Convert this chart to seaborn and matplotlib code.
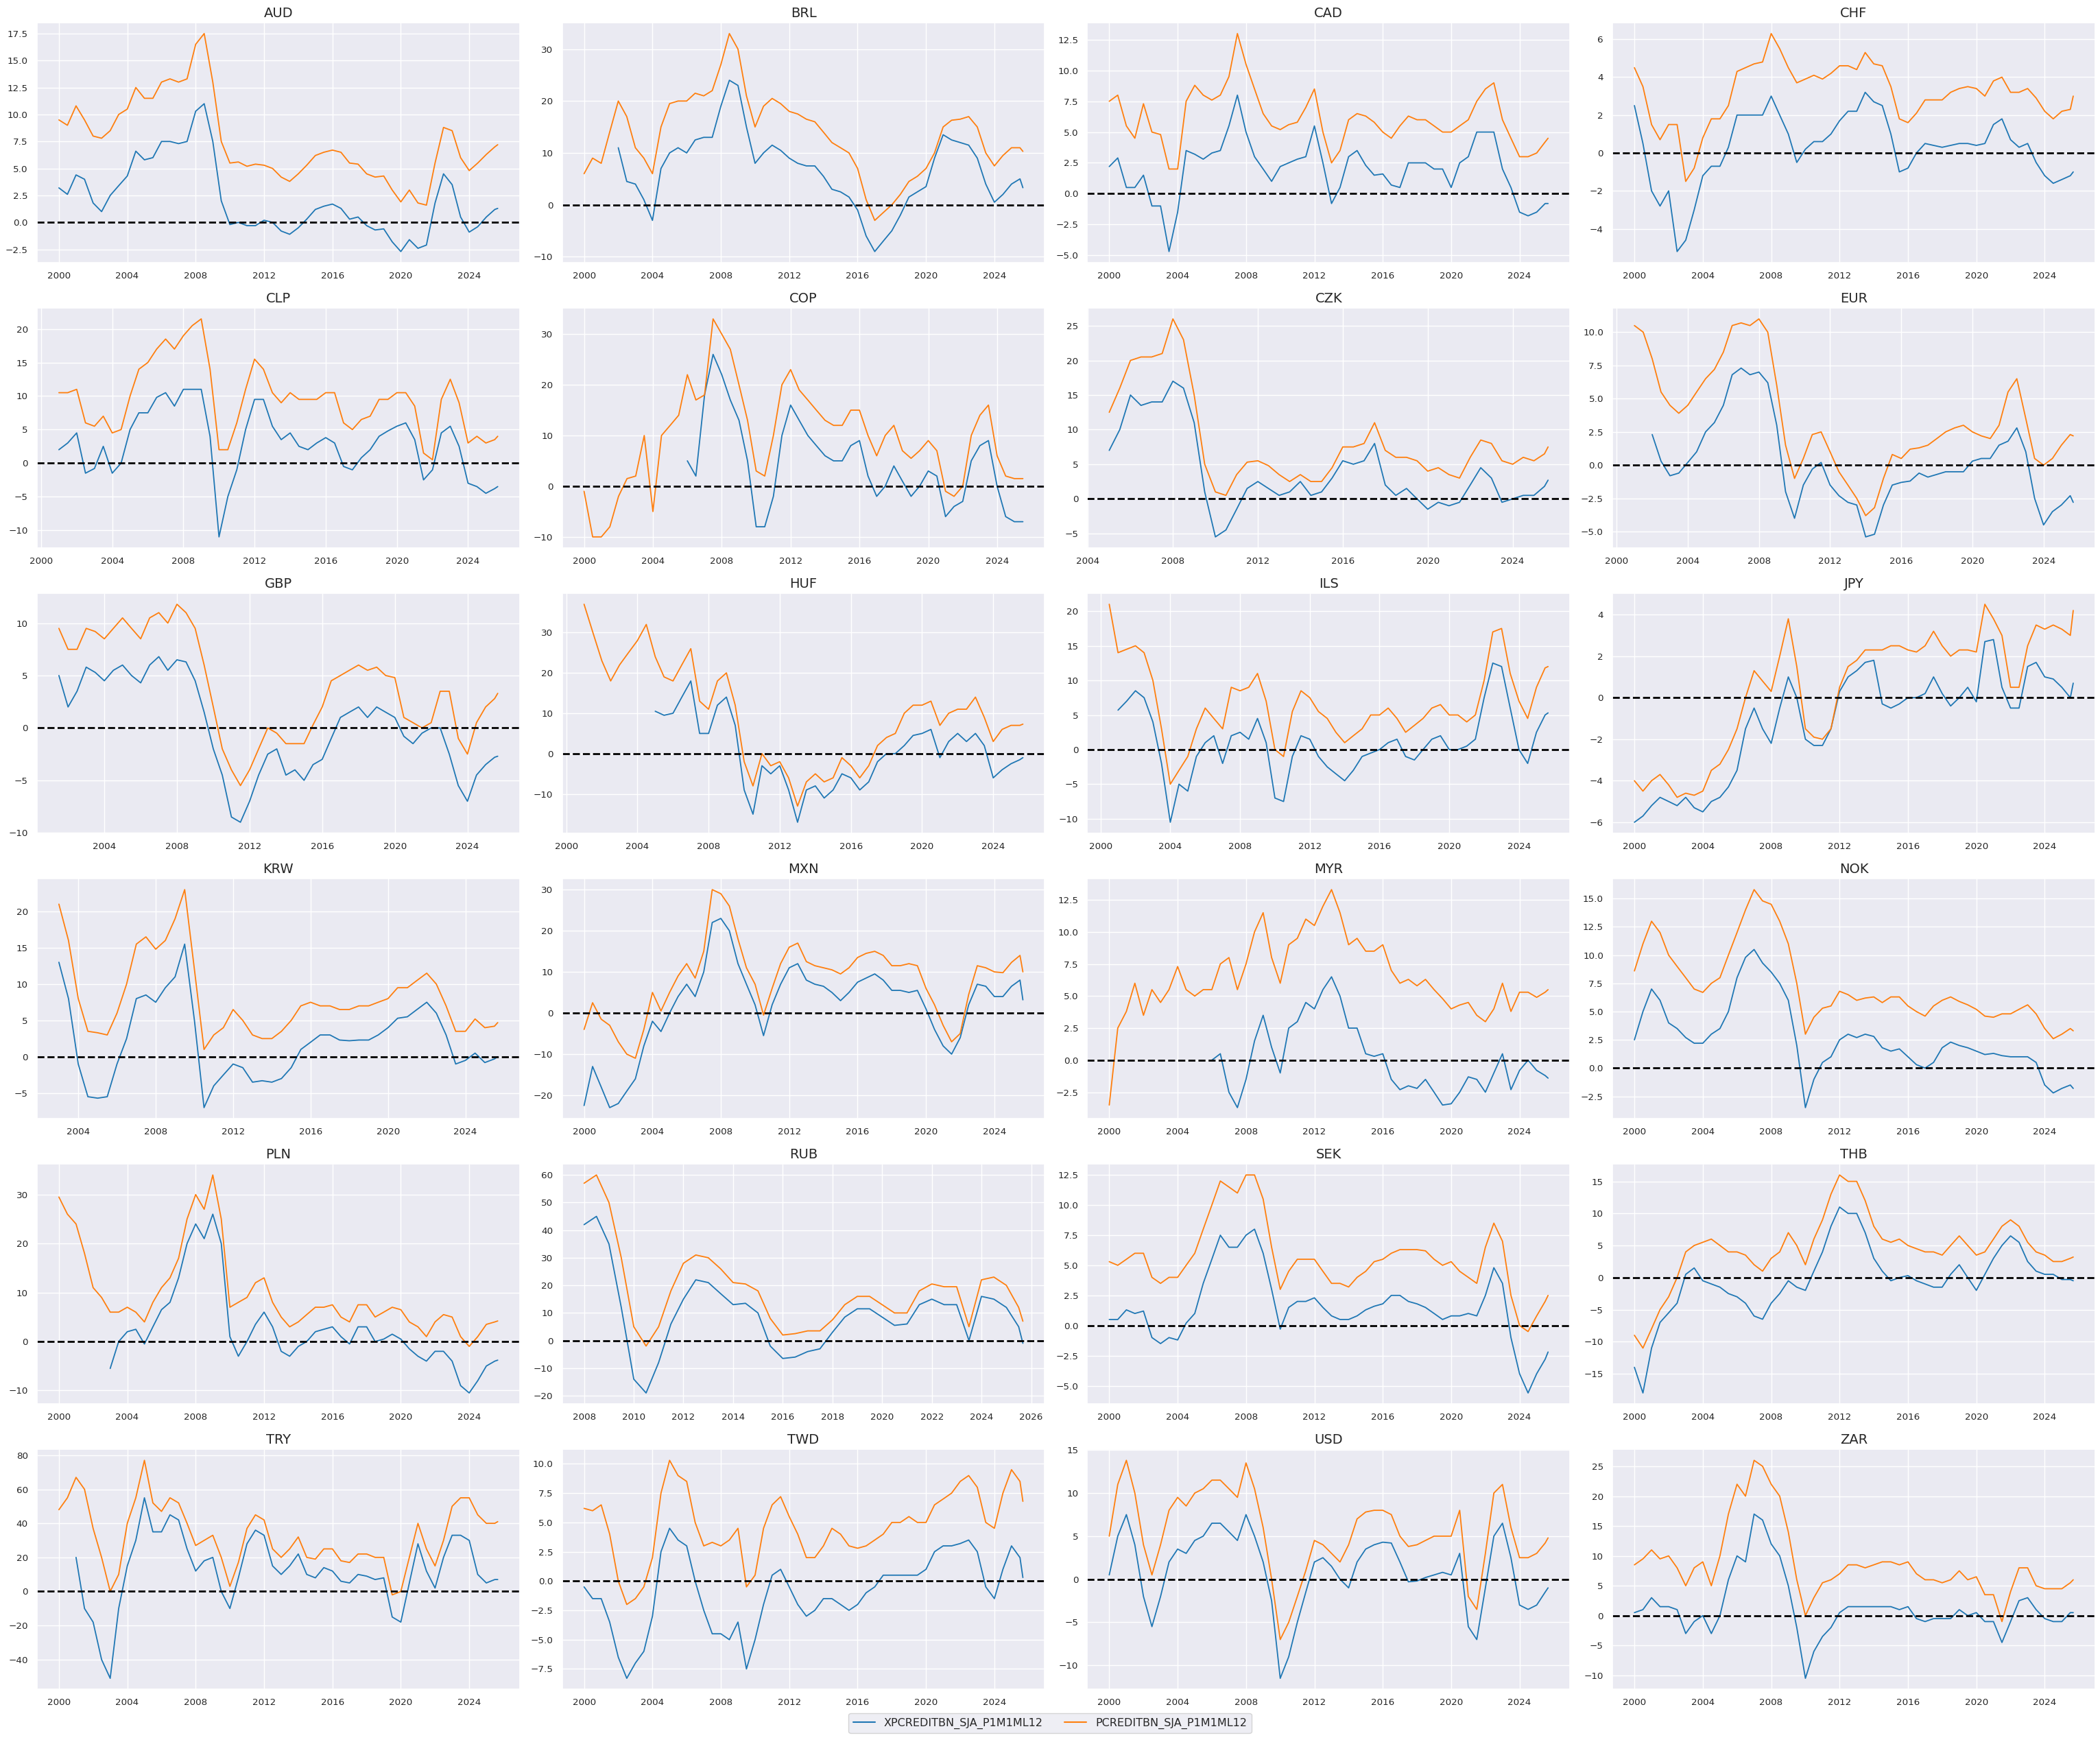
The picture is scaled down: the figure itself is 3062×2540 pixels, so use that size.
import numpy as np
import pandas as pd
import matplotlib.pyplot as plt
from matplotlib.lines import Line2D
import seaborn as sns

sns.set_theme(style="darkgrid")

na = np.nan

# half-yearly observations 2000-01 .. 2025-07, plus the last print (2025-09)
dates = list(pd.date_range("2000-01-01", "2025-07-01", freq="6MS")) + [pd.Timestamp("2025-09-01")]

xcat_a = "XPCREDITBN_SJA_P1M1ML12"
xcat_b = "PCREDITBN_SJA_P1M1ML12"

aud_x = [3.2, 2.6, 4.4, 4.0, 1.8, 1.0, 2.5, 3.4, 4.3, 6.6, 5.8, 6.0, 7.5, 7.5, 7.3, 7.5, 10.3, 11.0, 7.5, 2.0, -0.2, 0.0, -0.3, -0.3, 0.2, 0.0,
         -0.8, -1.1, -0.5, 0.3, 1.2, 1.5, 1.7, 1.3, 0.3, 0.5, -0.3, -0.7, -0.6, -1.8, -2.7, -1.6, -2.4, -2.1, 1.8, 4.5, 3.5, 0.5, -0.9, -0.4, 0.5, 1.2, 1.3]
aud_p = [9.5, 9.0, 10.8, 9.5, 8.0, 7.8, 8.5, 10.0, 10.5, 12.5, 11.5, 11.5, 13.0, 13.3, 13.0, 13.3, 16.5, 17.5, 13.0, 7.5, 5.5, 5.6, 5.2, 5.4, 5.3, 5.0,
         4.2, 3.8, 4.5, 5.3, 6.2, 6.5, 6.7, 6.5, 5.5, 5.4, 4.5, 4.2, 4.3, 3.0, 1.9, 3.0, 1.8, 1.6, 5.5, 8.8, 8.5, 6.0, 4.8, 5.5, 6.3, 7.0, 7.2]

brl_x = [na, na, na, na, 11, 4.5, 4, 1, -3, 7, 10, 11, 10, 12.5, 13, 13, 19, 24, 23, 15, 8, 10, 11.5, 10.5, 9, 8,
         7.5, 7.5, 5.5, 3, 2.5, 1.5, -1, -6, -9, -7, -5, -2, 1.5, 2.5, 3.5, 9, 13.5, 12.5, 12, 11.5, 9, 4, 0.5, 2, 4, 5, 3.3]
brl_p = [6, 9, 8, 14, 20, 17, 11, 9, 6, 15, 19.5, 20, 20, 21.5, 21, 22, 27, 33, 30, 21, 15, 19, 20.5, 19.5, 18, 17.5,
         16.5, 16, 14, 12, 11, 10, 7, 1, -3, -1.5, 0, 2, 4.5, 5.5, 7, 10, 15, 16.3, 16.5, 17, 15, 10, 7.5, 9.5, 11, 11, 10.3]

cad_x = [2.2, 2.9, 0.5, 0.5, 1.5, -1.0, -1.0, -4.7, -1.5, 3.5, 3.2, 2.8, 3.3, 3.5, 5.5, 8.0, 5, 3, 2, 1, 2.2, 2.5, 2.8, 3.0, 5.5, 2.5,
         -0.8, 0.5, 3.0, 3.5, 2.3, 1.5, 1.6, 0.7, 0.5, 2.5, 2.5, 2.5, 2.0, 2.0, 0.5, 2.5, 3.0, 5.0, 5.0, 5.0, 2.0, 0.5, -1.5, -1.8, -1.5, -0.8, -0.8]
cad_p = [7.5, 8, 5.5, 4.5, 7.3, 5, 4.8, 2.0, 2, 7.5, 8.8, 8.0, 7.6, 8.0, 9.5, 13.0, 10.5, 8.5, 6.5, 5.5, 5.2, 5.6, 5.8, 7.0, 8.5, 5,
         2.5, 3.5, 6.0, 6.5, 6.3, 5.8, 5.0, 4.5, 5.5, 6.3, 6.0, 6.0, 5.5, 5.0, 5.0, 5.5, 6.0, 7.5, 8.5, 9.0, 6.0, 4.5, 3.0, 3.0, 3.3, 4.2, 4.5]

chf_x = [2.5, 0.5, -2.0, -2.8, -2.0, -5.2, -4.6, -3.0, -1.2, -0.7, -0.7, 0.3, 2.0, 2.0, 2.0, 2.0, 3.0, 2.0, 1.0, -0.5, 0.2, 0.6, 0.6, 1.0, 1.7, 2.2,
         2.2, 3.2, 2.7, 2.5, 1.0, -1.0, -0.8, 0.0, 0.5, 0.4, 0.3, 0.4, 0.5, 0.5, 0.4, 0.5, 1.5, 1.8, 0.7, 0.3, 0.5, -0.5, -1.2, -1.6, -1.4, -1.2, -1.0]
chf_p = [4.5, 3.5, 1.5, 0.7, 1.5, 1.5, -1.5, -0.8, 0.8, 1.8, 1.8, 2.5, 4.3, 4.5, 4.7, 4.8, 6.3, 5.5, 4.5, 3.7, 3.9, 4.1, 3.9, 4.2, 4.6, 4.6,
         4.4, 5.3, 4.7, 4.6, 3.5, 1.8, 1.6, 2.1, 2.8, 2.8, 2.8, 3.2, 3.4, 3.5, 3.4, 3.0, 3.8, 4.0, 3.2, 3.2, 3.4, 2.9, 2.2, 1.8, 2.2, 2.3, 3.0]

clp_x = [na, na, 2.0, 3.0, 4.5, -1.5, -0.8, 2.5, -1.5, 0, 5, 7.5, 7.5, 9.8, 10.5, 8.5, 11, 11, 11, 4, -11, -5, -1, 5, 9.5, 9.5,
         5.5, 3.5, 4.5, 2.5, 2.0, 3.0, 3.8, 3.0, -0.5, -1.0, 0.8, 2.0, 4.0, 4.8, 5.5, 6.0, 3.5, -2.5, -1.0, 4.5, 5.5, 2.5, -3, -3.5, -4.5, -3.8, -3.5]
clp_p = [na, na, 10.5, 10.5, 11, 6, 5.5, 7, 4.5, 5, 10, 14, 15, 17, 18.5, 17, 19, 20.5, 21.5, 14, 2, 2, 6, 11, 15.5, 14,
         10.5, 9, 10.5, 9.5, 9.5, 9.5, 10.5, 10.5, 6, 5, 6.5, 7, 9.5, 9.5, 10.5, 10.5, 8.5, 1.5, 0.5, 9.5, 12.5, 9, 3, 4, 3, 3.5, 4.0]

cop_x = [na] * 12 + [5, 2, 18, 26, 22, 17, 13, 5, -8, -8, -2, 10, 16, 13,
         10, 8, 6, 5, 5, 8, 9, 2, -2, 0, 4, 1, -2, 0, 3, 2, -6, -4, -3, 5, 8, 9, 0, -6, -7, -7, na]
cop_p = [-1, -10, -10, -8, -2, 1.5, 2, 10, -5, 10, 12, 14, 22, 17, 18, 33, 30, 27, 20, 13, 3, 2, 10, 20, 23, 19,
         17, 15, 13, 12, 12, 15, 15, 10, 6, 10, 12, 7, 5.5, 7, 9, 7, -1, -2, 0, 10, 14, 16, 6, 2, 1.5, 1.5, na]

czk_x = [na] * 10 + [7, 10, 15, 13.5, 14, 14, 17, 16, 11, 1, -5.5, -4.5, -1.5, 1.5, 2.5, 1.5,
         0.5, 1.0, 2.5, 0.5, 1, 3, 5.5, 5, 5.5, 8, 2, 0.5, 1.5, 0, -1.5, -0.5, -1, -0.5, 2, 4.5, 3, -0.5, 0, 0.5, 0.5, 1.8, 2.7]
czk_p = [na] * 10 + [12.5, 16, 20, 20.5, 20.5, 21, 26, 23, 15, 5, 1, 0.5, 3.5, 5.3, 5.5, 4.8,
         3.5, 2.5, 3.5, 2.5, 2.5, 4.5, 7.5, 7.5, 8, 11, 7, 6, 6, 5.5, 4, 4.5, 3.5, 3, 6, 8.5, 8, 5.5, 5, 6, 5.5, 6.5, 7.5]

eur_x = [na, na, na, na, 2.3, 0.3, -0.8, -0.6, 0.2, 1.0, 2.5, 3.2, 4.5, 6.8, 7.3, 6.8, 7.0, 6.2, 3.0, -2.0, -4.0, -1.5, -0.3, 0.2, -1.5, -2.3,
         -2.8, -3.0, -5.4, -5.2, -3.0, -1.5, -1.3, -1.2, -0.6, -0.9, -0.7, -0.5, -0.5, -0.5, 0.3, 0.5, 0.5, 1.5, 1.8, 2.8, 1.0, -2.5, -4.5, -3.5, -3.0, -2.3, -2.8]
eur_p = [na, na, 10.5, 10, 8, 5.5, 4.5, 3.9, 4.5, 5.5, 6.5, 7.2, 8.5, 10.5, 10.7, 10.5, 11, 10, 6, 1.5, -1, 0.5, 2.3, 2.5, 1.0, -0.5,
         -1.5, -2.5, -3.8, -3.2, -1, 0.8, 0.5, 1.2, 1.3, 1.5, 2.0, 2.5, 2.8, 3.0, 2.5, 2.2, 2.0, 3.0, 5.5, 6.5, 3.5, 0.5, 0, 0.5, 1.5, 2.3, 2.2]

gbp_x = [na, na, na, 5.0, 2.0, 3.5, 5.8, 5.3, 4.5, 5.5, 6.0, 5.0, 4.3, 6.0, 6.8, 5.5, 6.5, 6.3, 4.5, 1.5, -2.0, -4.5, -8.5, -9.0, -7.0, -4.5,
         -2.5, -2.0, -4.5, -4.0, -5.0, -3.5, -3.0, -1.0, 1.0, 1.5, 2.0, 1.0, 2.0, 1.5, 1.0, -0.8, -1.5, -0.5, 0.0, 0.0, -2.5, -5.5, -7.0, -4.5, -3.5, -2.8, -2.7]
gbp_p = [na, na, na, 9.5, 7.5, 7.5, 9.5, 9.2, 8.5, 9.5, 10.5, 9.5, 8.5, 10.5, 11, 10, 11.8, 11, 9.5, 6, 2, -2, -4, -5.5, -4, -2,
         0.0, -0.5, -1.5, -1.5, -1.5, 0.3, 2.0, 4.5, 5.0, 5.5, 6.0, 5.5, 5.8, 5.0, 4.8, 1.0, 0.5, 0.0, 0.5, 3.5, 3.5, -1.0, -2.5, 0.5, 2.0, 2.8, 3.3]

huf_x = [na] * 10 + [10.5, 9.5, 10, 14, 18, 5, 5, 12, 14, 7, -9, -15, -3, -5, -3, -9,
         -17, -9, -8, -11, -9, -5, -6, -9, -7, -2, 0, 0, 2, 4.5, 5, 6, -1, 3, 5, 3, 5, 2, -6, -4, -2.5, -1.5, -1.0]
huf_p = [na, na, 37, 30, 23, 18, 22, 25, 28, 32, 24, 19, 18, 22, 26, 13, 11, 18, 20, 12, -2, -8, 0, -3, -2, -6,
         -13, -7, -5, -7, -6, -1, -3, -6, -3, 2, 4, 5, 10, 12, 12, 13, 7, 10, 11, 11, 14, 9, 3, 6, 7, 7, 7.3]

ils_x = [na, na, 5.7, 7.0, 8.5, 7.5, 4.0, -2, -10.5, -5, -6, -1, 1, 2, -2, 2, 2.5, 1.5, 4.5, 1, -7, -7.5, -1, 2, 1.5, -1,
         -2.5, -3.5, -4.5, -3, -1, -0.5, 0, 1, 1.5, -1, -1.5, 0, 1.5, 2, 0, 0, 0.5, 1.5, 7.5, 12.5, 12, 6, 0, -2, 2.5, 5, 5.3]
ils_p = [na, 21, 14, 14.5, 15, 14, 10, 3, -5, -3, -1, 3, 6, 4.5, 3, 9, 8.5, 9, 11, 7, 0, -1, 5.5, 8.5, 7.5, 5.5,
         4.5, 2.5, 1, 2, 3, 5, 5, 6, 4.5, 2.5, 3.5, 4.5, 6, 6.5, 5, 5, 4, 5, 10, 17, 17.5, 11, 7, 4.5, 9, 11.8, 12]

jpy_x = [-6.0, -5.7, -5.2, -4.8, -5.0, -5.2, -4.8, -5.3, -5.5, -5.0, -4.8, -4.3, -3.5, -1.5, -0.5, -1.5, -2.2, -0.5, 1.0, 0.0, -2.0, -2.3, -2.3, -1.5, 0.3, 1.0,
         1.3, 1.7, 1.8, -0.3, -0.5, -0.3, 0.0, 0.0, 0.2, 1.0, 0.2, -0.4, 0.0, 0.5, -0.2, 2.7, 2.8, 0.5, -0.5, -0.5, 1.5, 1.7, 1.0, 0.9, 0.5, 0.0, 0.7]
jpy_p = [-4.0, -4.5, -4.0, -3.7, -4.2, -4.8, -4.6, -4.7, -4.5, -3.5, -3.2, -2.5, -1.5, 0.0, 1.3, 0.8, 0.3, 2.0, 3.8, 1.5, -1.5, -1.9, -2.0, -1.5, 0.5, 1.5,
         1.8, 2.3, 2.3, 2.3, 2.5, 2.5, 2.3, 2.2, 2.5, 3.2, 2.5, 2.0, 2.3, 2.3, 2.2, 4.5, 3.8, 3.0, 0.5, 0.5, 2.5, 3.5, 3.3, 3.5, 3.3, 3.0, 4.2]

krw_x = [na] * 6 + [13, 8, -1, -5.5, -5.7, -5.5, -1, 2.5, 8, 8.5, 7.5, 9.5, 11, 15.5, 5, -7, -4, -2.5, -1, -1.5,
         -3.5, -3.3, -3.5, -3, -1.5, 1, 2, 3, 3, 2.3, 2.2, 2.3, 2.3, 3, 4, 5.3, 5.5, 6.5, 7.5, 6, 3, -1, -0.5, 0.5, -0.8, -0.3, 0.0]
krw_p = [na] * 6 + [21, 16, 8, 3.5, 3.3, 3.0, 6, 10, 15.5, 16.5, 14.8, 16, 19, 23, 12, 1, 3, 4, 6.5, 5,
         3, 2.5, 2.5, 3.5, 5, 7, 7.5, 7, 7, 6.5, 6.5, 7, 7, 7.5, 8, 9.5, 9.5, 10.5, 11.5, 10, 7, 3.5, 3.5, 5.2, 4.0, 4.2, 4.7]

mxn_x = [-22.5, -13, -18, -23, -22, -19, -16, -8, -2, -4.5, 0, 4, 7, 4, 10, 22, 23, 20, 12, 7, 2, -5.5, 2, 7, 11, 12,
         8, 7, 6.5, 5, 3, 5, 7.5, 8.5, 9.5, 8, 5.5, 5.5, 5, 5.5, 1, -4, -8, -10, -6, 2, 7, 6.5, 4, 4, 6.5, 8, 3.2]
mxn_p = [-4, 2.5, -1.5, -3, -7, -10, -11, -4, 5, 0.5, 5, 9, 12, 8.5, 15, 30, 29, 26, 18, 11, 7, -0.5, 6, 12, 16, 17,
         12.5, 11.5, 11, 10.5, 9.5, 11, 13.5, 14.5, 15, 14, 11.5, 11.5, 12, 11.5, 6, 2, -3, -7, -5, 4.5, 11.5, 11, 10, 9.8, 12.3, 14, 10]

myr_x = [na] * 12 + [0, 0.5, -2.5, -3.7, -1.5, 1.5, 3.5, 1, -1, 2.5, 3, 4.5, 4, 5.5,
         6.5, 5, 2.5, 2.5, 0.5, 0.3, 0.5, -1.5, -2.3, -2.0, -2.2, -1.5, -2.5, -3.5, -3.4, -2.5, -1.3, -1.5, -2.5, -1.0, 0.5, -2.3, -0.8, 0.0, -0.8, -1.2, -1.4]
myr_p = [-3.5, 2.5, 3.8, 6, 3.5, 5.5, 4.5, 5.5, 7.3, 5.5, 5.0, 5.5, 5.5, 7.5, 8, 5.5, 7.5, 10, 11.5, 8, 6, 9, 9.5, 11, 10.5, 12,
         13.3, 11.5, 9.0, 9.5, 8.5, 8.5, 9.0, 7.0, 6.0, 6.3, 5.8, 6.3, 5.5, 4.8, 4.0, 4.3, 4.5, 3.5, 3.0, 4.0, 6.0, 3.8, 5.3, 5.3, 4.9, 5.3, 5.5]

nok_x = [2.5, 5, 7, 6, 4, 3.5, 2.7, 2.2, 2.2, 3.0, 3.5, 5.0, 8, 9.8, 10.5, 9.3, 8.5, 7.5, 6, 2, -3.5, -1, 0.5, 1.0, 2.5, 3.0,
         2.7, 3.0, 2.8, 1.8, 1.5, 1.7, 1.0, 0.3, 0.0, 0.5, 1.8, 2.3, 2.0, 1.8, 1.5, 1.2, 1.3, 1.1, 1.0, 1.0, 1.0, 0.5, -1.5, -2.2, -1.8, -1.5, -1.8]
nok_p = [8.6, 11, 13, 12, 10, 9, 8, 7, 6.7, 7.5, 8, 10, 12, 14, 15.8, 14.8, 14.5, 13, 11, 7.5, 3, 4.5, 5.3, 5.5, 6.8, 6.5,
         6, 6.2, 6.3, 5.8, 6.3, 6.3, 5.5, 5.0, 4.6, 5.5, 6.0, 6.3, 5.9, 5.6, 5.2, 4.6, 4.5, 4.8, 4.8, 5.2, 5.6, 4.8, 3.5, 2.6, 3.0, 3.5, 3.3]

pln_x = [na] * 6 + [-5.5, 0, 2, 2.5, -0.5, 3, 6.5, 8, 13, 20, 24, 21, 26, 20, 1, -3, 0, 3.5, 6, 3,
         -2, -3, -1, 0, 2, 2.5, 3, 1, -0.5, 3, 3, 0, 0.5, 1.5, 0.5, -1.5, -3, -4, -2, -2, -4, -9, -10.5, -8, -5, -4, -3.8]
pln_p = [29.5, 26, 24, 18, 11, 9, 6, 6, 7, 6, 4, 8, 11, 13, 17, 25, 30, 27, 34, 25, 7, 8, 9, 12, 13, 8,
         5, 3, 4, 5.5, 7, 7, 7.5, 5, 4, 7.5, 7.5, 5, 6, 7, 6.5, 4, 3, 1, 4, 5.5, 5, 1, -1, 1, 3.5, 4, 4.2]

rub_x = [na] * 16 + [42, 45, 35, 12, -14, -19, -8, 6, 15, 22,
         21, 17, 13, 13.5, 10, -2, -6.5, -6, -4, -3, 3, 8.5, 11.5, 11.5, 8.5, 5.5, 6, 13, 15, 13, 13, 0, 16, 15, 12, 5, -1]
rub_p = [na] * 16 + [57, 60, 50, 30, 5, -2, 5, 18, 28, 31,
         30, 26, 21, 20.5, 18, 8, 2, 2.5, 3.5, 3.5, 7.5, 13, 16, 16, 13, 10, 10, 18, 20.5, 19.5, 19.5, 5, 22, 23, 20, 12, 7]

sek_x = [0.5, 0.5, 1.3, 1.0, 1.2, -1.0, -1.5, -1.0, -1.2, 0.2, 1.0, 3.5, 5.5, 7.5, 6.5, 6.5, 7.5, 8.0, 6.0, 3.0, -0.3, 1.5, 2.0, 2.0, 2.3, 1.5,
         0.8, 0.5, 0.5, 0.8, 1.3, 1.6, 1.8, 2.5, 2.5, 2.0, 1.8, 1.5, 1.0, 0.5, 0.8, 0.8, 1.0, 0.8, 2.5, 4.8, 3.5, -1.0, -4.0, -5.6, -4.0, -2.8, -2.2]
sek_p = [5.3, 5.0, 5.5, 6.0, 6.0, 4.0, 3.5, 4.0, 4.0, 5.0, 6.0, 8.0, 10.0, 12.0, 11.5, 11.0, 12.5, 12.5, 10.5, 6.5, 3.0, 4.5, 5.5, 5.5, 5.5, 4.5,
         3.5, 3.5, 3.2, 4.0, 4.5, 5.3, 5.5, 6.0, 6.3, 6.3, 6.3, 6.2, 5.5, 5.0, 5.3, 4.5, 4.0, 3.5, 6.5, 8.5, 7.0, 2.5, 0.0, -0.5, 0.8, 2.0, 2.5]

thb_x = [-14, -18, -11, -7, -5.5, -4, 0.5, 1.5, -0.5, -1, -1.5, -2.5, -3, -4, -6, -6.5, -4, -2.5, -0.5, -1.5, -2, 1, 4, 8, 11, 10,
         10, 7, 3, 1, -0.5, 0, 0.3, -0.5, -1, -1.5, -1.5, 0.5, 2, 0, -2, 0.5, 3, 5, 6.5, 5.5, 2.5, 1, 0.5, 0.5, -0.3, -0.3, -0.5]
thb_p = [-9, -11, -8, -5, -3, 0, 4, 5, 5.5, 6, 5, 4, 4, 3.5, 2, 1, 3, 4, 7, 5, 2, 6, 9, 13, 16, 15,
         15, 12, 8, 6, 5.5, 6, 5, 4.5, 4, 4, 3.5, 5, 6.5, 5, 3.5, 4, 6, 8, 9, 8, 5.5, 4, 3.5, 2.5, 2.5, 3, 3.2]

try_x = [na, na, 20, -10, -18, -40, -51, -10, 15, 30, 55, 35, 35, 45, 42, 25, 12, 18, 20, 0, -10, 8, 28, 36, 33, 15,
         10, 15, 22, 10, 8, 14, 12, 6, 5, 10, 9, 7, 8, -15, -18, 5, 28, 12, 2, 20, 33, 33, 30, 10, 5, 7, 7]
try_p = [48, 55, 67, 60, 37, 20, 0, 10, 40, 55, 77, 52, 47, 55, 52, 40, 27, 30, 33, 20, 3, 17, 37, 45, 42, 25,
         20, 25, 32, 20, 19, 25, 25, 18, 17, 22, 22, 20, 20, -2, 0, 20, 40, 25, 15, 30, 50, 55, 55, 45, 40, 40, 41]

twd_x = [-0.5, -1.5, -1.5, -3.5, -6.5, -8.3, -7.0, -6.0, -3.0, 2.5, 4.5, 3.5, 3.0, 0.0, -2.5, -4.5, -4.5, -5.0, -3.5, -7.5, -5.0, -2.0, 0.5, 1.0, -0.5, -2.0,
         -3.0, -2.5, -1.5, -1.5, -2.0, -2.5, -2.0, -1.0, -0.5, 0.5, 0.5, 0.5, 0.5, 0.5, 1.0, 2.5, 3.0, 3.0, 3.2, 3.5, 2.5, -0.5, -1.5, 1.0, 3.0, 2.0, 0.3]
twd_p = [6.2, 6.0, 6.5, 4.0, 0.0, -2.0, -1.5, -0.5, 2.0, 7.5, 10.3, 9.0, 8.5, 5.0, 3.0, 3.3, 3.0, 3.5, 4.5, -0.5, 0.5, 4.5, 6.5, 7.2, 5.5, 4.0,
         2.0, 2.0, 3.0, 4.5, 4.0, 3.0, 2.8, 3.0, 3.5, 4.0, 5.0, 5.0, 5.5, 5.0, 5.0, 6.5, 7.0, 7.5, 8.5, 9.0, 8.0, 5.0, 4.5, 7.5, 9.5, 8.5, 6.8]

usd_x = [0.5, 5, 7.5, 4, -2, -5.5, -2, 2, 3.5, 3, 4.5, 5, 6.5, 6.5, 5.5, 4.5, 7.5, 5, 2, -2.5, -11.5, -9, -5, -1.5, 2, 2.5,
         1.5, 0, -1, 2, 3.5, 4, 4.3, 4.2, 2, -0.3, -0.2, 0.2, 0.5, 0.8, 0.5, 3, -5.5, -7, -1, 5, 6.5, 2.5, -3, -3.5, -3, -1.5, -1.0]
usd_p = [5.0, 11, 13.8, 10, 4, 0.5, 4, 8, 9.5, 8.5, 10, 10.5, 11.5, 11.5, 10.5, 9.5, 13.5, 10.5, 6, 0, -7, -5, -2, 1, 4.5, 4,
         3, 2, 4, 7, 7.8, 8, 8, 7.5, 5, 3.8, 4, 4.5, 5, 5, 5, 8, -2, -3.5, 3, 10, 11, 6, 2.5, 2.5, 3, 4.2, 4.8]

zar_x = [0.5, 1, 3, 1.5, 1.5, 1, -3, -1, 0, -3, 0, 6, 10, 9, 17, 16, 12, 10, 5, -2, -10.5, -6, -3.5, -2, 0.5, 1.5,
         1.5, 1.5, 1.5, 1.5, 1.5, 1, 1.5, -0.5, -1, -0.5, -0.5, -0.5, 1, 0, 0.5, -1, -1, -4.5, -1, 2.5, 3, 1, -0.5, -1, -1, 0.5, 0.5]
zar_p = [8.5, 9.5, 11, 9.5, 10, 8, 5, 8, 9, 5, 10, 17, 22, 20, 26, 25, 22, 20, 14, 6, 0, 3, 5.5, 6, 7, 8.5,
         8.5, 8, 8.5, 9, 9, 8.5, 9, 7, 6, 6, 5.5, 6, 7.5, 6, 6.5, 3.5, 3.5, -1, 4, 8, 8, 5, 4.5, 4.5, 4.5, 5.5, 6.0]

panels = [
    ("AUD", aud_x, aud_p), ("BRL", brl_x, brl_p), ("CAD", cad_x, cad_p), ("CHF", chf_x, chf_p),
    ("CLP", clp_x, clp_p), ("COP", cop_x, cop_p), ("CZK", czk_x, czk_p), ("EUR", eur_x, eur_p),
    ("GBP", gbp_x, gbp_p), ("HUF", huf_x, huf_p), ("ILS", ils_x, ils_p), ("JPY", jpy_x, jpy_p),
    ("KRW", krw_x, krw_p), ("MXN", mxn_x, mxn_p), ("MYR", myr_x, myr_p), ("NOK", nok_x, nok_p),
    ("PLN", pln_x, pln_p), ("RUB", rub_x, rub_p), ("SEK", sek_x, sek_p), ("THB", thb_x, thb_p),
    ("TRY", try_x, try_p), ("TWD", twd_x, twd_p), ("USD", usd_x, usd_p), ("ZAR", zar_x, zar_p),
]

blue, orange = "#1f77b4", "#ff7f0e"

fig, axes = plt.subplots(6, 4, figsize=(30.62, 25.4), dpi=100)
fig.subplots_adjust(left=0.0176, right=0.9977, top=0.987, bottom=0.0303, wspace=0.088, hspace=0.19)

for ax, (cid, xp, p) in zip(axes.flat, panels):
    assert len(xp) == len(dates) and len(p) == len(dates), cid
    df = pd.DataFrame({
        "date": dates + dates,
        "value": xp + p,
        "xcat": [xcat_a] * len(dates) + [xcat_b] * len(dates),
    })
    sns.lineplot(data=df, x="date", y="value", hue="xcat", hue_order=[xcat_a, xcat_b],
                 palette=[blue, orange], ax=ax, legend=False, linewidth=1.3)
    ax.axhline(0, color="black", linestyle="--", linewidth=2)
    ax.set_title(cid, fontsize=14)
    ax.set_xlabel("")
    ax.set_ylabel("")
    ax.tick_params(labelsize=9.7)

handles = [Line2D([], [], color=blue, lw=1.5), Line2D([], [], color=orange, lw=1.5)]
fig.legend(handles, [xcat_a, xcat_b], loc="lower center", ncol=2,
           bbox_to_anchor=(0.5, 0.002), fontsize=11.5)

fig.savefig("out.png", dpi=100)
